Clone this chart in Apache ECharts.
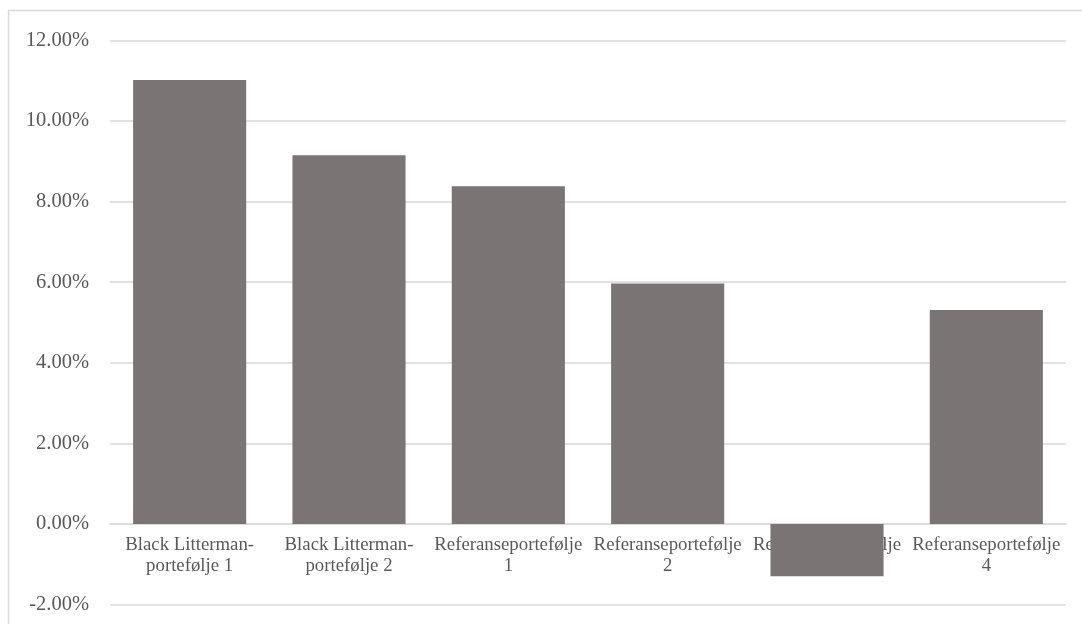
<!DOCTYPE html>
<html>
<head>
<meta charset="utf-8">
<script src="https://cdn.jsdelivr.net/npm/echarts@6/dist/echarts.min.js"></script>
<style>html,body{margin:0;padding:0;background:#fff}#c{width:1082px;height:624px}</style>
</head>
<body>
<div id="c"></div>
<script>
const categories = ["Black Litterman-portefølje 1", "Black Litterman-portefølje 2", "Referanseportefølje 1", "Referanseportefølje 2", "Referanseportefølje 3", "Referanseportefølje 4"];
const values = [11.02, 9.15, 8.38, 5.97, -1.30, 5.31];
const yTicks = { min: -2, max: 12, interval: 2 };

function wrapLabel(v) {
  if (v.indexOf('-') >= 0) return v.replace('-', '-\n');
  const i = v.lastIndexOf(' ');
  return v.slice(0, i) + '\n' + v.slice(i + 1);
}

const W = 1082, H = 624;
const gridTop = 40.5, gridBottom = 19.5;
const plotH = H - gridTop - gridBottom;
// shift the category axis up so it sits on the zero line
const zeroOffset = plotH * (0 - yTicks.min) / (yTicks.max - yTicks.min);

const chart = echarts.init(document.getElementById('c'), null, { renderer: 'canvas' });
chart.setOption({
  animation: false,
  backgroundColor: '#ffffff',
  textStyle: { fontFamily: '"Liberation Serif", "Times New Roman", serif' },
  graphic: [{
    type: 'rect', silent: true, z: -10,
    shape: { x: 8.5, y: 10.5, width: 1200, height: 800 },
    style: { fill: 'none', stroke: '#d9d9d9', lineWidth: 1.5 }
  }],
  grid: { left: 110, right: 16, top: gridTop, bottom: gridBottom, containLabel: false, outerBoundsMode: 'none' },
  xAxis: {
    type: 'category',
    data: categories,
    offset: -zeroOffset,
    axisLine: { show: true, onZero: false, lineStyle: { color: '#d9d9d9', width: 1.5 } },
    axisTick: { show: false },
    axisLabel: {
      interval: 0, margin: 11, color: '#595959', fontSize: 18.8, lineHeight: 21,
      fontFamily: '"Liberation Serif", "Times New Roman", serif',
      formatter: wrapLabel
    }
  },
  yAxis: {
    type: 'value',
    min: yTicks.min, max: yTicks.max, interval: yTicks.interval,
    axisLine: { show: false },
    axisTick: { show: false },
    splitLine: { lineStyle: { color: '#d9d9d9', width: 1.5 } },
    axisLabel: {
      margin: 21, color: '#595959', fontSize: 20.5,
      fontFamily: '"Liberation Serif", "Times New Roman", serif',
      formatter: v => v.toFixed(2) + '%'
    }
  },
  series: [{
    type: 'bar',
    data: values,
    barWidth: '71%',
    itemStyle: { color: '#7a7574' }
  }]
});
</script>
</body>
</html>
